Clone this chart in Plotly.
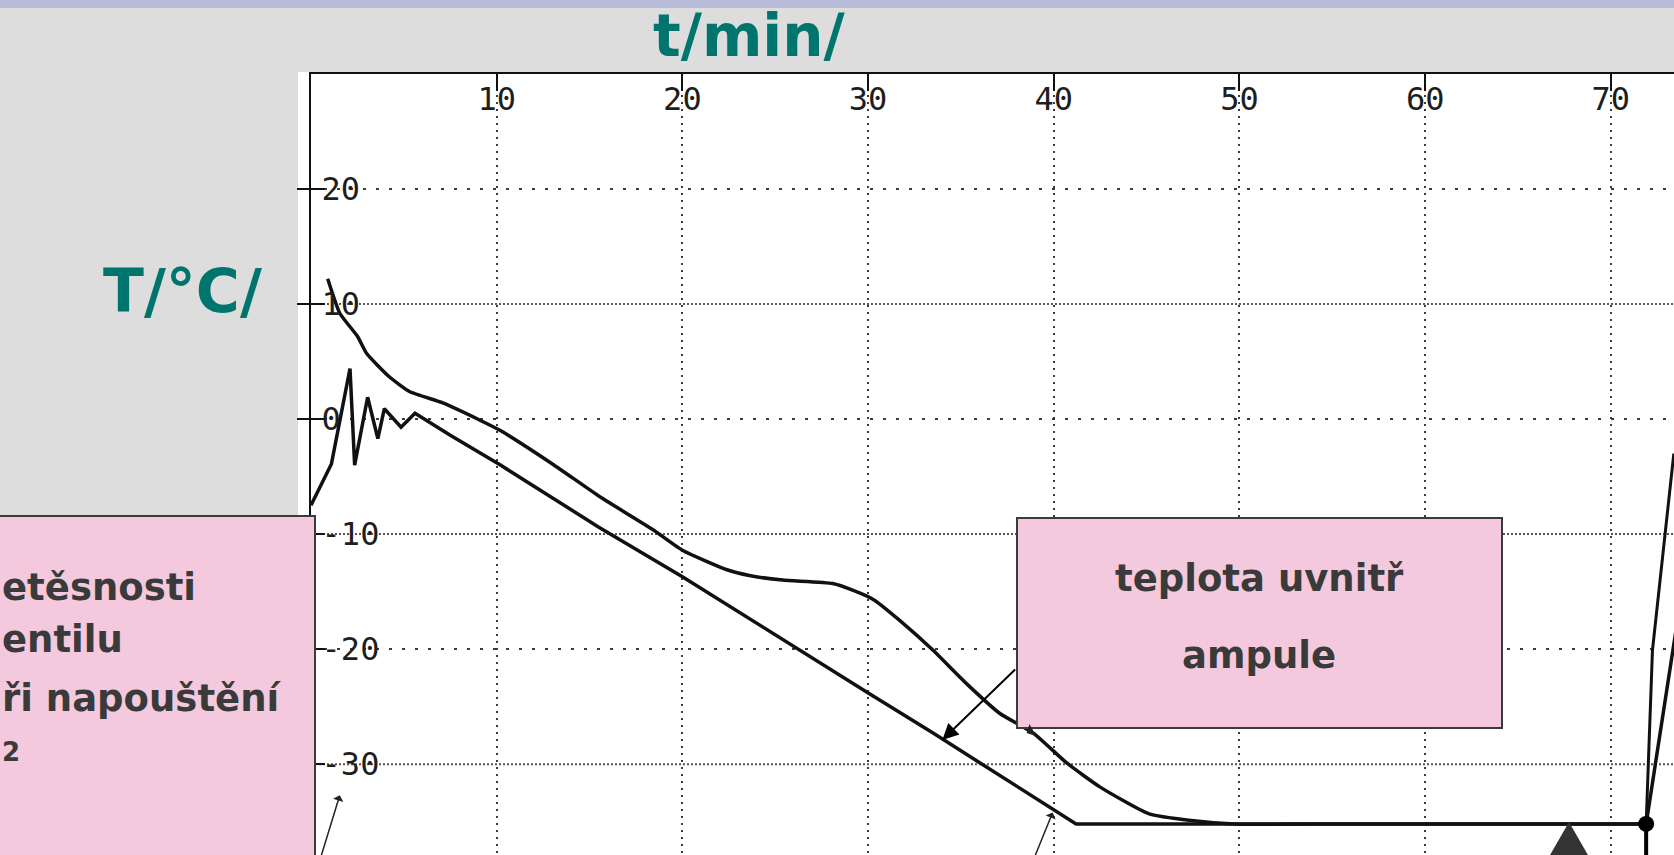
import plotly.graph_objects as go

# ---------------- data ----------------
x_ticks = [10, 20, 30, 40, 50, 60, 70]
y_ticks = [20, 10, 0, -10, -20, -30]
y_grid_dense = [10, -10, -30]
y_grid_sparse = [20, 0, -20]

# upper (smooth) curve
t_upper = [0.9, 1.55, 2.5, 3.0, 4.2, 5.3, 7.1, 9.1, 10.2, 13.0, 15.6, 18.4, 20.0,
           22.4, 23.6, 25.4, 28.1, 29.2, 30.3, 31.7, 33.5, 35.3, 37.1, 38.9, 40.7,
           42.5, 45.1, 47.4, 49.7, 55.0, 60.0, 65.0, 70.0, 71.9]
T_upper = [12.2, 9.2, 7.2, 5.7, 3.7, 2.4, 1.4, -0.1, -1.0, -3.9, -6.8, -9.6, -11.4,
           -13.1, -13.6, -14.0, -14.3, -14.9, -15.7, -17.5, -20.1, -23.0, -25.6, -27.3, -29.9,
           -32.0, -34.3, -34.9, -35.2, -35.2, -35.2, -35.2, -35.2, -35.2]
# warming branch of the upper curve after the dot
t_upper_rise = [71.9, 72.24, 73.39]
T_upper_rise = [-35.2, -20.1, -3.0]

# lower curve (temperature inside the ampoule)
t_lower = [0.0, 1.1, 2.1, 2.35, 3.05, 3.6, 3.95, 4.85, 5.6, 7.5, 10.2, 15.5, 20.0,
           26.3, 29.9, 33.5, 36.5, 39.9, 41.2, 45.0, 50.0, 55.0, 60.0, 65.0, 70.0,
           71.9, 73.34, 74.5]
T_lower = [-7.5, -3.9, 4.4, -4.0, 1.9, -1.7, 0.9, -0.7, 0.5, -1.4, -4.0, -9.4, -13.7,
           -20.1, -23.7, -27.3, -30.4, -33.9, -35.2, -35.2, -35.2, -35.2, -35.2, -35.2, -35.2,
           -35.2, -20.1, -8.0]

# marker point and vertical drop
dot_t = [71.9]
dot_T = [-35.2]
drop_t = [71.9, 71.9]
drop_T = [-35.2, -40.0]

X_RANGE = [0, 73.4]
Y_RANGE = [-37.9, 30]

# ---------------- style ----------------
W, H = 1674, 855
def px(x):
    return x / W
def py(y):
    return 1 - y / H

TEAL = "#00756e"
PINK = "#f4c9dd"
BOXLINE = "#3b3b3b"
TXT = "#3a3a3a"
GRID = "#3a3a3a"
BOLD = dict(family="DejaVu Sans", weight="bold")

fig = go.Figure()

fig.add_trace(go.Scatter(x=t_upper, y=T_upper, mode="lines",
                         line=dict(color="#111111", width=3.5, shape="spline", smoothing=0.5),
                         hoverinfo="skip"))
fig.add_trace(go.Scatter(x=t_upper_rise, y=T_upper_rise, mode="lines",
                         line=dict(color="#111111", width=3), hoverinfo="skip"))
fig.add_trace(go.Scatter(x=t_lower, y=T_lower, mode="lines",
                         line=dict(color="#111111", width=3.5), hoverinfo="skip"))
fig.add_trace(go.Scatter(x=drop_t, y=drop_T, mode="lines",
                         line=dict(color="#000000", width=4), hoverinfo="skip"))
fig.add_trace(go.Scatter(x=dot_t, y=dot_T, mode="markers",
                         marker=dict(color="#000000", size=16), hoverinfo="skip"))
# helper axis for the outer half of the y tick marks
fig.add_trace(go.Scatter(x=[None], y=[None], yaxis="y2", hoverinfo="skip"))

shapes = []
# white "paper" of the scanned chart
shapes.append(dict(type="rect", xref="paper", yref="paper", x0=px(298), x1=1.01,
                   y0=-0.01, y1=py(72), fillcolor="white", line=dict(width=0), layer="below"))
# top band of the slide
shapes.append(dict(type="rect", xref="paper", yref="paper", x0=-0.01, x1=1.01,
                   y0=py(8), y1=1.01, fillcolor="#b7bbd8", line=dict(width=0), layer="below"))
# horizontal grid lines
for v in y_grid_sparse:
    shapes.append(dict(type="line", xref="paper", yref="y", x0=px(311), x1=1.0, y0=v, y1=v,
                       line=dict(color=GRID, width=2, dash="3px,10px"), layer="below"))
for v in y_grid_dense:
    shapes.append(dict(type="line", xref="paper", yref="y", x0=px(311), x1=1.0, y0=v, y1=v,
                       line=dict(color="#555555", width=2, dash="2px,2px"), layer="below"))
# pink boxes
shapes.append(dict(type="rect", xref="paper", yref="paper", x0=-0.02, x1=px(315),
                   y0=-0.05, y1=py(516), fillcolor=PINK, line=dict(color=BOXLINE, width=2),
                   layer="above"))
shapes.append(dict(type="rect", xref="paper", yref="paper", x0=px(1017), x1=px(1502),
                   y0=py(728), y1=py(518), fillcolor=PINK, line=dict(color=BOXLINE, width=2),
                   layer="above"))
# dark triangle (arrow head of a slide arrow)
shapes.append(dict(type="path", xref="paper", yref="paper",
                   path=f"M {px(1569)},{py(822)} L {px(1530)},{py(890)} L {px(1608)},{py(890)} Z",
                   fillcolor="#333333", line=dict(width=0), layer="above"))

annotations = [
    dict(text="t/min/", x=px(749), y=py(36), xref="paper", yref="paper", showarrow=False,
         font=dict(size=58, color=TEAL, **BOLD), xanchor="center", yanchor="middle"),
    dict(text="T/°C/", x=px(182), y=py(291), xref="paper", yref="paper", showarrow=False,
         font=dict(size=60, color=TEAL, **BOLD), xanchor="center", yanchor="middle"),
    # left box (cut off by the slide edge)
    dict(text="etěsnosti", x=0, y=py(587), xref="paper", yref="paper", showarrow=False,
         font=dict(size=37, color=TXT, **BOLD), xanchor="left", yanchor="middle"),
    dict(text="entilu", x=0, y=py(639), xref="paper", yref="paper", showarrow=False,
         font=dict(size=37, color=TXT, **BOLD), xanchor="left", yanchor="middle"),
    dict(text="ři napouštění", x=0, y=py(698), xref="paper", yref="paper", showarrow=False,
         font=dict(size=37, color=TXT, **BOLD), xanchor="left", yanchor="middle"),
    dict(text="2", x=0, y=py(752), xref="paper", yref="paper", showarrow=False,
         font=dict(size=26, color=TXT, **BOLD), xanchor="left", yanchor="middle"),
    # right box
    dict(text="teplota uvnitř", x=px(1259), y=py(578), xref="paper", yref="paper", showarrow=False,
         font=dict(size=37, color=TXT, **BOLD), xanchor="center", yanchor="middle"),
    dict(text="ampule", x=px(1259), y=py(655), xref="paper", yref="paper", showarrow=False,
         font=dict(size=37, color=TXT, **BOLD), xanchor="center", yanchor="middle"),
    # arrow from the box to the lower curve
    dict(text="", x=34.0, y=-27.9, xref="x", yref="y", ax=38.0, ay=-21.65, axref="x", ayref="y",
         showarrow=True, arrowhead=2, arrowsize=1.6, arrowwidth=2, arrowcolor="#000000"),
    # hand-drawn arrows from the scan
    dict(text="", x=39.94, y=-34.2, xref="x", yref="y", ax=38.86, ay=-38.5, axref="x", ayref="y",
         showarrow=True, arrowhead=1, arrowsize=1.2, arrowwidth=1.5, arrowcolor="#222222"),
    dict(text="", x=38.54, y=-27.3, xref="x", yref="y", ax=38.95, ay=-26.95, axref="x", ayref="y",
         showarrow=True, arrowhead=1, arrowsize=1.5, arrowwidth=1.5, arrowcolor="#222222"),
    dict(text="", x=1.55, y=-32.7, xref="x", yref="y", ax=0.45, ay=-38.5, axref="x", ayref="y",
         showarrow=True, arrowhead=1, arrowsize=1.2, arrowwidth=1.5, arrowcolor="#222222"),
]

tickfont = dict(family="DejaVu Sans Mono", size=32, color="#1e1e1e")

fig.update_layout(
    width=W, height=H, margin=dict(l=0, r=0, t=0, b=0),
    paper_bgcolor="#dddddd", plot_bgcolor="white", showlegend=False,
    shapes=shapes, annotations=annotations,
    xaxis=dict(domain=[px(311), 1], range=X_RANGE, side="top", anchor="y",
               tickmode="array", tickvals=x_ticks, ticktext=[str(v) for v in x_ticks],
               ticks="inside", ticklen=17, tickwidth=2, tickcolor="#111111",
               ticklabelposition="inside", tickfont=tickfont,
               showline=True, linecolor="#111111", linewidth=2, mirror=False,
               showgrid=True, gridcolor=GRID, gridwidth=2, griddash="2px,5px",
               zeroline=False, fixedrange=True),
    yaxis=dict(domain=[0, py(74)], range=Y_RANGE, anchor="x", side="left",
               tickmode="array", tickvals=y_ticks, ticktext=[str(v) for v in y_ticks],
               ticks="inside", ticklen=14, tickwidth=2, tickcolor="#111111",
               ticklabelposition="inside", tickfont=tickfont,
               showline=True, linecolor="#111111", linewidth=2,
               showgrid=False, zeroline=False, fixedrange=True),
    yaxis2=dict(domain=[0, py(74)], range=Y_RANGE, overlaying="y", anchor="x", side="left",
                tickmode="array", tickvals=y_ticks, ticks="outside", ticklen=13, tickwidth=2,
                tickcolor="#111111", showticklabels=False, showline=False,
                showgrid=False, zeroline=False, fixedrange=True),
)

fig.write_html("out.html", config={"displayModeBar": False},
               post_script="document.body.style.margin='0px';")
